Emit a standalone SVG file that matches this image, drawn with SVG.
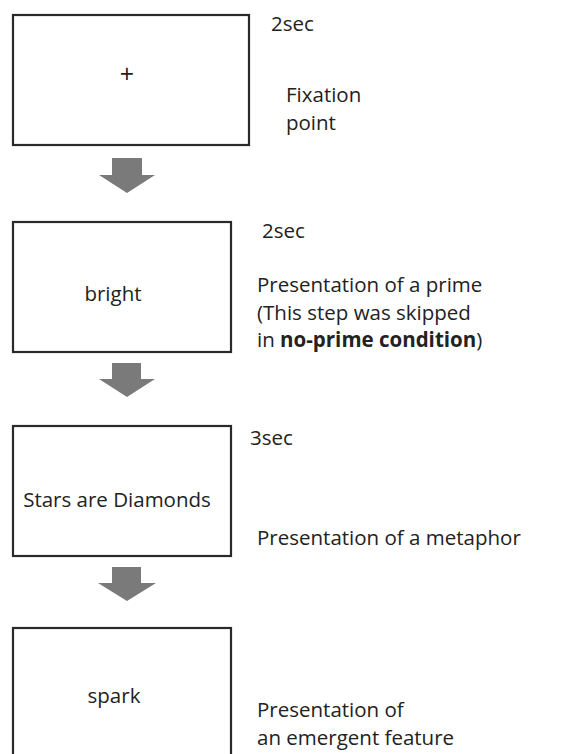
<svg xmlns="http://www.w3.org/2000/svg" width="568" height="754" viewBox="0 0 568 754">
<style>
.box{fill:#fff;stroke:#2a2a2a;stroke-width:2.2}
.arrow{fill:#7a7a7a}
text{font-family:"Open Sans","Liberation Sans",sans-serif;font-size:20.5px;fill:#222}
.c{text-anchor:middle}
.b{font-weight:bold}
.plus{font-size:25px}
</style>
<rect width="568" height="754" fill="#fff"/>
<g id="connectors">
<polygon class="arrow" points="112,158 142,158 142,175 155,175 127,193 99,175 112,175"/>
<polygon class="arrow" points="112,363 141,363 141,379 155,379 127,397 99,379 112,379"/>
<polygon class="arrow" points="112,567 141,567 141,583 156,583 127,601 98,583 112,583"/>
</g>
<g id="node-fixation">
<rect class="box" x="13" y="15" width="236" height="130"/>
<text class="c plus" x="127" y="83">+</text>
<text x="271" y="31">2sec</text>
<text x="286" y="102">Fixation</text>
<text x="286" y="130">point</text>
</g>
<g id="node-prime">
<rect class="box" x="13" y="222" width="218" height="130"/>
<text class="c" x="113" y="301">bright</text>
<text x="262" y="238">2sec</text>
<text x="257" y="292">Presentation of a prime</text>
<text x="257" y="320">(This step was skipped</text>
<text x="257" y="347">in <tspan class="b">no-prime condition</tspan>)</text>
</g>
<g id="node-metaphor">
<rect class="box" x="13" y="426" width="218" height="130"/>
<text class="c" x="117" y="507">Stars are Diamonds</text>
<text x="250" y="445">3sec</text>
<text x="257" y="545">Presentation of a metaphor</text>
</g>
<g id="node-feature">
<rect class="box" x="13" y="628" width="218" height="140"/>
<text class="c" x="114" y="703">spark</text>
<text x="257" y="717">Presentation of</text>
<text x="257" y="745">an emergent feature</text>
</g>
</svg>
